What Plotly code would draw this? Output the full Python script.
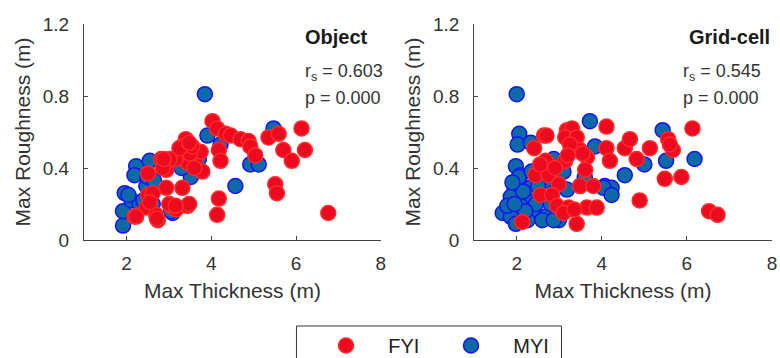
import plotly.graph_objects as go

# ---------------- data ----------------
obj_fyi_x = [4.03, 4.14, 4.34, 4.18, 4.22, 4.18, 4.14, 3.40, 3.32, 3.64, 3.44, 3.17, 2.82, 2.94, 2.51,
             3.79, 2.94, 3.32, 2.51, 2.47, 2.19, 2.70, 2.74, 3.05, 3.17, 3.44, 4.46, 4.69, 4.88, 4.92,
             5.04, 5.35, 5.59, 6.13, 5.70, 5.90, 6.21, 5.51, 5.55, 6.76, 3.75, 3.50, 3.60, 2.62, 3.02,
             3.55, 3.25, 3.48, 2.86, 2.88, 3.48, 2.72, 2.23, 2.55, 3.01, 3.16]
obj_fyi_y = [0.66, 0.62, 0.59, 0.50, 0.44, 0.23, 0.14, 0.56, 0.52, 0.46, 0.43, 0.45, 0.45, 0.39, 0.37,
             0.38, 0.29, 0.29, 0.25, 0.18, 0.13, 0.14, 0.11, 0.19, 0.17, 0.19, 0.58, 0.56, 0.55, 0.52,
             0.47, 0.57, 0.59, 0.62, 0.50, 0.44, 0.50, 0.31, 0.26, 0.15, 0.49, 0.48, 0.40, 0.26, 0.45,
             0.52, 0.51, 0.54, 0.40, 0.45, 0.20, 0.12, 0.13, 0.21, 0.20, 0.19]
obj_myi_x = [3.85, 1.92, 1.92, 1.96, 2.12, 2.23, 2.19, 2.55, 2.47, 2.58, 2.31, 3.09, 3.52, 3.71, 3.91,
             4.22, 5.47, 4.92, 5.12, 4.57, 2.05, 2.40, 2.62, 3.30, 2.50, 3.60, 3.05, 2.65]
obj_myi_y = [0.81, 0.08, 0.16, 0.26, 0.22, 0.41, 0.36, 0.44, 0.30, 0.23, 0.20, 0.15, 0.35, 0.45, 0.58,
             0.53, 0.62, 0.42, 0.42, 0.30, 0.25, 0.22, 0.20, 0.40, 0.35, 0.42, 0.16, 0.33]

grid_fyi_x = [2.13, 2.41, 2.64, 2.70, 3.18, 3.30, 3.14, 3.41, 2.68, 3.14, 3.65, 3.49, 2.44, 2.75, 2.99,
              3.61, 2.56, 2.83, 3.49, 3.80, 2.95, 3.22, 3.65, 3.41, 3.10, 4.11, 4.11, 4.19, 4.54, 4.66,
              4.82, 5.13, 5.56, 5.67, 6.13, 5.48, 5.87, 4.89, 6.52, 6.72, 3.88, 3.25, 3.55, 2.90, 3.35,
              3.20, 2.55, 5.60]
grid_fyi_y = [0.10, 0.51, 0.58, 0.58, 0.61, 0.62, 0.57, 0.57, 0.44, 0.44, 0.46, 0.50, 0.36, 0.36, 0.31,
              0.39, 0.25, 0.25, 0.30, 0.30, 0.19, 0.18, 0.18, 0.09, 0.15, 0.63, 0.51, 0.44, 0.51, 0.56,
              0.45, 0.51, 0.56, 0.50, 0.62, 0.34, 0.35, 0.22, 0.16, 0.14, 0.18, 0.53, 0.48, 0.40, 0.17,
              0.47, 0.42, 0.53]
grid_myi_x = [2.00, 2.06, 2.02, 3.72, 3.84, 1.98, 2.09, 2.09, 1.94, 1.86, 2.25, 1.67, 1.86, 1.98, 2.09,
              2.41, 2.68, 2.99, 2.33, 2.60, 2.25, 1.78, 2.33, 2.87, 3.49, 4.07, 4.23, 3.18, 2.68, 2.87,
              5.43, 5.51, 5.00, 4.54, 6.18, 4.04, 4.23, 2.15, 2.45, 2.20, 1.95, 2.50, 2.80, 3.60, 2.05,
              2.35, 3.10, 1.90]
grid_myi_y = [0.81, 0.59, 0.53, 0.66, 0.52, 0.41, 0.36, 0.31, 0.27, 0.24, 0.22, 0.15, 0.13, 0.09, 0.19,
              0.14, 0.13, 0.11, 0.29, 0.11, 0.11, 0.19, 0.54, 0.45, 0.30, 0.30, 0.29, 0.28, 0.33, 0.11,
              0.61, 0.44, 0.42, 0.36, 0.45, 0.29, 0.25, 0.27, 0.20, 0.16, 0.20, 0.30, 0.20, 0.35, 0.35,
              0.38, 0.38, 0.32]

panel_titles = ["Object", "Grid-cell"]
rs_values = ["0.603", "0.545"]
p_values = ["0.000", "0.000"]
x_title = "Max Thickness (m)"
y_title = "Max Roughness (m)"

# ---------------- style ----------------
FONT = "Liberation Sans, Arial, sans-serif"
TXT = "#333333"
AX = "#444444"
FYI_FILL, FYI_LINE = "#ec0a1f", "#ff2a2a"
MYI_FILL, MYI_LINE = "#0d6aa6", "#1414f5"
MS = 15

fig = go.Figure()

def add_panel(xa, ya, fx, fy, mx, my, show):
    fig.add_trace(go.Scatter(x=mx, y=my, mode="markers", name="\u00a0\u00a0\u00a0\u00a0MYI",
                             xaxis=xa, yaxis=ya, showlegend=show, legendrank=2,
                             marker=dict(size=MS, color=MYI_FILL, line=dict(color=MYI_LINE, width=1.5))))
    fig.add_trace(go.Scatter(x=fx, y=fy, mode="markers", name="\u00a0\u00a0\u00a0\u00a0FYI",
                             xaxis=xa, yaxis=ya, showlegend=show, legendrank=1,
                             marker=dict(size=MS, color=FYI_FILL, line=dict(color=FYI_LINE, width=1.5))))

add_panel("x", "y", obj_fyi_x, obj_fyi_y, obj_myi_x, obj_myi_y, True)
add_panel("x2", "y2", grid_fyi_x, grid_fyi_y, grid_myi_x, grid_myi_y, False)

W, H = 780, 358
ml, mr, mt, mb = 84, 3, 24, 118
pw = W - ml - mr

def xax(dom):
    return dict(domain=dom, range=[1, 8], tick0=0, dtick=2, showline=True, linecolor=AX, linewidth=1,
                ticks="inside", ticklen=4, tickcolor=AX, showgrid=False, zeroline=False,
                tickfont=dict(family=FONT, size=19, color=TXT), ticklabelstandoff=6,
                ticklabeloverflow="allow",
                title=dict(text=x_title, font=dict(family=FONT, size=21, color=TXT), standoff=10))

def yax(anchor):
    return dict(domain=[0, 1], range=[0, 1.2], tick0=0, dtick=0.4, showline=True, linecolor=AX,
                linewidth=1, ticks="inside", ticklen=4, tickcolor=AX, showgrid=False, zeroline=False,
                anchor=anchor, tickfont=dict(family=FONT, size=19, color=TXT), ticklabelstandoff=10,
                title=dict(text=y_title, font=dict(family=FONT, size=21, color=TXT), standoff=6))

fig.update_layout(
    width=W, height=H, margin=dict(l=ml, r=mr, t=mt, b=mb),
    paper_bgcolor="white", plot_bgcolor="white",
    xaxis=xax([0, (383 - ml) / pw]), yaxis=yax("x"),
    xaxis2=xax([(477 - ml) / pw, 1.0]), yaxis2=yax("x2"),
    legend=dict(orientation="h", xref="container", yref="container", x=326 / W, y=(H - 326) / H,
                xanchor="left", yanchor="top", font=dict(family=FONT, size=20, color="#222222"),
                bgcolor="rgba(0,0,0,0)", borderwidth=0, entrywidth=80, entrywidthmode="pixels"),
)

# legend box
fig.add_shape(type="rect", xref="paper", yref="paper",
              x0=(298 - ml) / pw, x1=(565 - ml) / pw,
              y0=(240 - 370) / 216, y1=(240 - 326) / 216,
              line=dict(color="#333333", width=1), fillcolor="rgba(0,0,0,0)", layer="below")

# panel annotations
for i, (xr, yr) in enumerate([("x", "y"), ("x2", "y2")]):
    right_x = [7.74, 8.0][i]
    left_x = [6.17, 5.86][i]
    fig.add_annotation(x=right_x, y=1.128, xref=xr, yref=yr, xanchor="right", yanchor="middle",
                       text="<b>%s</b>" % panel_titles[i], showarrow=False,
                       font=dict(family=FONT, size=20, color="#1a1a1a"))
    fig.add_annotation(x=left_x, y=0.93, xref=xr, yref=yr, xanchor="left", yanchor="middle",
                       text="r<sub>s</sub> = %s" % rs_values[i], showarrow=False,
                       font=dict(family=FONT, size=18, color=TXT))
    fig.add_annotation(x=left_x, y=0.789, xref=xr, yref=yr, xanchor="left", yanchor="middle",
                       text="p = %s" % p_values[i], showarrow=False,
                       font=dict(family=FONT, size=18, color=TXT))

fig.write_html("out.html", config={"displayModeBar": False},
               post_script="document.body.style.margin='0';")
